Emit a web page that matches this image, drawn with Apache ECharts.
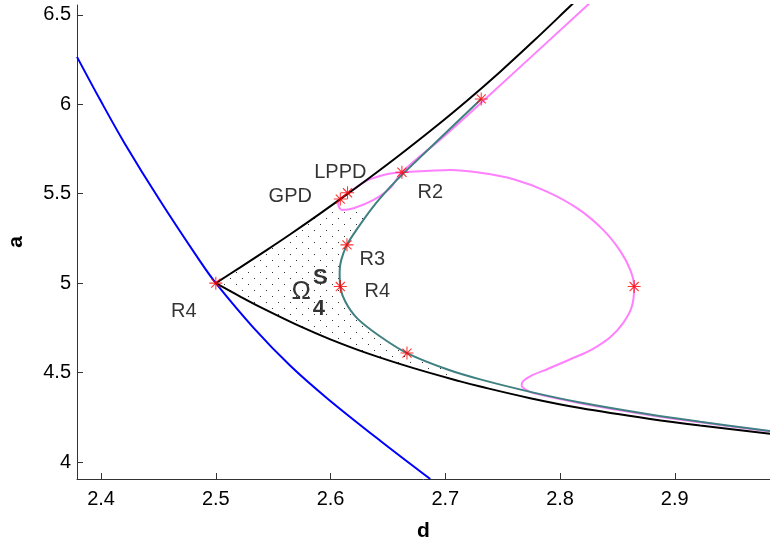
<!DOCTYPE html>
<html>
<head>
<meta charset="utf-8">
<script src="https://cdn.jsdelivr.net/npm/echarts@6/dist/echarts.min.js"></script>
<style>
  html, body { margin: 0; padding: 0; background: #fff; }
  #chart { width: 770px; height: 540px; }
</style>
</head>
<body>
<div id="chart"></div>
<script>
// bifurcation set in the (d, a) plane

// blue curve
const blueD = [2.379, 2.3994, 2.4203, 2.4516, 2.4865, 2.5, 2.5329, 2.5649, 2.5969, 2.6433, 2.6869];
const blueA = [6.265, 6.022, 5.784, 5.459, 5.12, 5.0, 4.75, 4.538, 4.357, 4.119, 3.905];

// black curves leaving the cusp at (2.5, 5)
const upperD = [2.5, 2.5213, 2.5446, 2.5649, 2.5911, 2.6085, 2.6346, 2.6608, 2.6898, 2.7189, 2.7479, 2.7769, 2.8069, 2.82];
const upperA = [5.0, 5.0884, 5.1863, 5.2736, 5.3902, 5.4694, 5.5921, 5.7192, 5.8657, 6.0199, 6.1823, 6.3534, 6.5364, 6.617];
const lowerD = [2.5, 2.5213, 2.5388, 2.5736, 2.5998, 2.6317, 2.6723, 2.7130, 2.7305, 2.7740, 2.8176, 2.8786, 2.9221, 2.9831];
const lowerA = [5.0, 4.925, 4.866, 4.758, 4.686, 4.609, 4.525, 4.4509, 4.422, 4.357, 4.302, 4.241, 4.204, 4.158];

// teal (C-shaped) curve, from the upper star down and round to the right edge
const tealD = [2.7313, 2.6642, 2.6520, 2.6372, 2.6230, 2.6143, 2.6093, 2.6079, 2.6085, 2.6128, 2.6230, 2.6433, 2.6666, 2.7014, 2.7305, 2.7740, 2.8176, 2.8786, 2.9221, 2.9831];
const tealA = [6.0297, 5.618, 5.538, 5.428, 5.3017, 5.214, 5.130, 5.063, 4.981, 4.897, 4.8045, 4.7017, 4.609, 4.5185, 4.4618, 4.3922, 4.3329, 4.2658, 4.2253, 4.1735];

// pink curve: diagonal from top, small loop at GPD/LPPD, big loop, nose, then along teal
const pinkD = [2.8315, 2.8234, 2.7348, 2.6985, 2.6622, 2.6520, 2.6375, 2.6201, 2.6100, 2.6067, 2.6085, 2.6148, 2.6215, 2.6288, 2.6364, 2.6462, 2.6538, 2.6622,
  2.6869, 2.7043, 2.7305, 2.7595, 2.7886, 2.8158, 2.8376, 2.8524, 2.8612, 2.8646,
  2.8626, 2.8551, 2.8437, 2.8280, 2.8089, 2.7897, 2.7740, 2.7671, 2.7666, 2.7697,
  2.7769, 2.8176, 2.8786, 2.9221, 2.9831];
const pinkA = [6.5996, 6.551, 6.0297, 5.819, 5.620, 5.532, 5.4654, 5.419, 5.4095, 5.443, 5.471, 5.5017, 5.532, 5.563, 5.5855, 5.605, 5.6146, 5.620,
  5.629, 5.633, 5.617, 5.581, 5.5118, 5.4151, 5.2978, 5.1805, 5.0743, 4.981,
  4.8693, 4.7782, 4.6972, 4.6301, 4.5743, 4.5212, 4.4793, 4.4458, 4.4262, 4.4067,
  4.385, 4.329, 4.262, 4.222, 4.170];

// red asterisks
const starD = [2.5, 2.6085, 2.6148, 2.6622, 2.7313, 2.6143, 2.6085, 2.6666, 2.8646];
const starA = [5.0, 5.470, 5.505, 5.620, 6.030, 5.214, 4.981, 4.609, 4.981];

// annotations
const labelText = ['LPPD', 'GPD', 'R2', 'R3', 'R4', 'R4'];
const labelD = [2.6085, 2.5649, 2.6869, 2.6364, 2.6407, 2.4721];
const labelA = [5.641, 5.507, 5.527, 5.155, 4.9765, 4.865];
const omegaText = ['Ω', 'S', '4'];
const omegaD = [2.5745, 2.5911, 2.5897];
const omegaA = [4.9765, 5.052, 4.879];

// axes
const xTicks = [2.4, 2.5, 2.6, 2.7, 2.8, 2.9];
const yTicks = [4, 4.5, 5, 5.5, 6, 6.5];

const FONT = '"Liberation Sans", Arial, Helvetica, sans-serif';
const pairs = (xs, ys) => xs.map((x, i) => [x, ys[i]]);

// shaded region Ω4S: upper black to GPD, round the pink tip, down the teal, back along lower black
const region = [].concat(
  pairs(upperD, upperA).slice(0, 6),
  pairs(pinkD, pinkA).slice(7, 10).reverse(),
  pairs(tealD, tealA).slice(3, 14),
  pairs(lowerD, lowerA).slice(0, 8).reverse()
);

// stipple tile
const tile = document.createElement('canvas');
tile.width = 12; tile.height = 12;
const tc = tile.getContext('2d');
tc.fillStyle = '#333';
tc.fillRect(2, 2, 1, 1);
tc.fillRect(8, 8, 1, 1);

const STAR = 'path://M9.2,0H10.8V20H9.2Z M0,9.2H20V10.8H0Z M2.4,3.6L3.6,2.4L17.6,16.4L16.4,17.6Z M16.4,2.4L17.6,3.6L3.6,17.6L2.4,16.4Z';

function curve(name, xs, ys, color) {
  return {
    name, type: 'line', data: pairs(xs, ys), symbol: 'none',
    smooth: 0.35, lineStyle: { color, width: 2 }, silent: true,
  };
}

function textSeries(texts, xs, ys, font) {
  return {
    type: 'scatter', silent: true, z: 5,
    data: xs.map((x, i) => ({ value: [x, ys[i]], name: texts[i] })),
    symbolSize: 1, itemStyle: { color: 'rgba(0,0,0,0)' },
    label: Object.assign({
      show: true, position: 'inside', formatter: (p) => p.name, offset: [0, 4],
      color: '#000', fontFamily: FONT, align: 'center', verticalAlign: 'middle',
    }, font),
  };
}

const chart = echarts.init(document.getElementById('chart'), null, { renderer: 'canvas' });
chart.setOption({
  animation: false,
  backgroundColor: '#fff',
  grid: { left: 77, right: 0, top: 5, bottom: 61, containLabel: false, outerBoundsMode: 'none' },
  xAxis: {
    type: 'value', min: 2.379, max: 2.983,
    name: 'd', nameLocation: 'middle', nameGap: 42,
    nameTextStyle: { fontFamily: FONT, fontSize: 21, fontWeight: 'bold', color: '#000' },
    axisLine: { onZero: false, lineStyle: { color: '#333', width: 1 } },
    axisTick: { inside: true, length: 6, customValues: xTicks, lineStyle: { color: '#333' } },
    axisLabel: { customValues: xTicks, fontFamily: FONT, fontSize: 20, color: '#000', margin: 10 },
    splitLine: { show: false },
  },
  yAxis: {
    type: 'value', min: 3.905, max: 6.555,
    name: 'a', nameLocation: 'middle', nameGap: 50, nameRotate: 90,
    nameTextStyle: { fontFamily: FONT, fontSize: 21, fontWeight: 'bold', color: '#000' },
    axisLine: { onZero: false, lineStyle: { color: '#333', width: 1 } },
    axisTick: { inside: true, length: 6, customValues: yTicks, lineStyle: { color: '#333' } },
    axisLabel: { customValues: yTicks, fontFamily: FONT, fontSize: 20, color: '#000', margin: 6 },
    splitLine: { show: false },
  },
  series: [
    {
      type: 'custom', silent: true, z: 1, clip: true,
      data: [region[0]],
      renderItem: (params, api) => ({
        type: 'polygon',
        shape: { points: region.map((p) => api.coord(p)) },
        style: { fill: { image: tile, repeat: 'repeat' }, stroke: null },
      }),
    },
    curve('pink', pinkD, pinkA, '#ff80ff'),
    curve('teal', tealD, tealA, '#408080'),
    curve('blue', blueD, blueA, '#0000ff'),
    curve('upper', upperD, upperA, '#000'),
    curve('lower', lowerD, lowerA, '#000'),
    {
      type: 'scatter', silent: true, z: 4,
      data: pairs(starD, starA), symbol: STAR, symbolSize: 13,
      itemStyle: { color: '#ff0000' },
    },
    textSeries(labelText, labelD, labelA, { fontSize: 20 }),
    textSeries(omegaText.slice(0, 1), omegaD.slice(0, 1), omegaA.slice(0, 1), { fontSize: 26 }),
    textSeries(omegaText.slice(1), omegaD.slice(1), omegaA.slice(1), { fontSize: 22, fontWeight: 'bold' }),
  ],
});
</script>
</body>
</html>
